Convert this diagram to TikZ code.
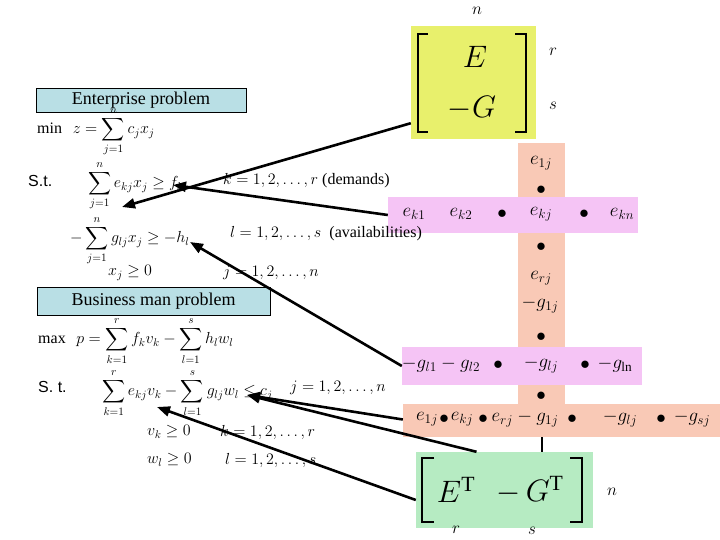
\RequirePackage{fix-cm}
\documentclass[tikz,border=0pt]{standalone}
\usepackage{amsmath,amssymb}
\usepackage{fontspec}
\setmainfont{Liberation Serif}
\setsansfont{Liberation Sans}
\usetikzlibrary{arrows.meta,positioning}
\definecolor{amareloM}{HTML}{E8F06C}
\definecolor{salmao}{HTML}{F9C9B6}
\definecolor{rosa}{HTML}{F5C4F5}
\definecolor{verdeM}{HTML}{B6EBC2}
\definecolor{azulT}{HTML}{B9DFE5}
\tikzset{
    titulo/.style={
        rectangle,
        draw,
        fill=azulT,
        inner sep=0pt,
        font=\fontsize{18}{20}\selectfont
    },
    faixa/.style={rectangle, inner sep=0pt},
    formula/.style={anchor=west, inner sep=0pt, font=\fontsize{16}{18}\selectfont},
    elem/.style={inner sep=0pt, font=\fontsize{19}{21}\selectfont},
    rotulo/.style={inner sep=0pt, font=\fontsize{17}{19}\selectfont},
    grande/.style={inner sep=0pt, font=\fontsize{31}{33}\selectfont},
    seta/.style={-{Triangle[length=13pt,width=10pt]}, line width=2.6pt},
    colchete/.style={line width=1.6pt}
}

\begin{document}
\begin{tikzpicture}[x=1pt, y=-1pt]
    \useasboundingbox (0,0) rectangle (720,540);

    % faixas coloridas
    \node[faixa, fill=amareloM, minimum width=125pt, minimum height=113pt] (amarelo) at (473.5,82.5) {};
    \node[faixa, fill=salmao, minimum width=47pt, minimum height=262pt] (coluna) at (541.5,274) {};
    \node[faixa, fill=rosa, minimum width=250pt, minimum height=36pt] (linhaK) at (513,215) {};
    \node[faixa, fill=rosa, minimum width=240pt, minimum height=38pt] (linhaL) at (522,366) {};
    \node[faixa, fill=salmao, minimum width=317pt, minimum height=33pt] (linhaS) at (561.5,420.5) {};
    \node[faixa, fill=verdeM, minimum width=177pt, minimum height=76pt] (verde) at (504.5,490) {};

    % matriz [E; -G]
    \draw[colchete] (428,34) -- (418,34) -- (418,132) -- (428,132);
    \draw[colchete] (515,34) -- (526,34) -- (526,132) -- (515,132);
    \node[grande] (matE) at (475,57) {$E$};
    \node[grande] (matG) at (472,108) {$-G$};
    \node[rotulo] (nSup) at (477,11) {$n$};
    \node[rotulo] (rSup) at (553,52) {$r$};
    \node[rotulo] (sSup) at (553,106) {$s$};

    % matriz [E^T  -G^T]
    \draw[colchete] (434,458) -- (422,458) -- (422,522) -- (434,522);
    \draw[colchete] (570,458) -- (582,458) -- (582,522) -- (570,522);
    \node[grande] (matET) at (456,490) {$E^{\mathrm{T}}$};
    \node[grande] (matGT) at (530,490) {$-\,G^{\mathrm{T}}$};
    \node[rotulo] (nInf) at (612,492) {$n$};
    \node[rotulo] (rInf) at (456,530) {$r$};
    \node[rotulo] (sInf) at (532,531) {$s$};

    % elementos da coluna j
    \node[elem] (e1j) at (541,163) {$e_{1j}$};
    \node[elem] (pv1) at (541,190) {$\bullet$};
    \node[elem] (ek1) at (414,214) {$e_{k1}$};
    \node[elem] (ek2) at (461,214) {$e_{k2}$};
    \node[elem] (pk1) at (502,214) {$\bullet$};
    \node[elem] (ekj) at (541,214) {$e_{kj}$};
    \node[elem] (pk2) at (584,214) {$\bullet$};
    \node[elem] (ekn) at (622,214) {$e_{kn}$};
    \node[elem] (pv2) at (541,247) {$\bullet$};
    \node[elem] (erj) at (541,278) {$e_{rj}$};
    \node[elem] (g1j) at (540,305) {$-g_{1j}$};
    \node[elem] (pv3) at (541,337) {$\bullet$};
    \node[elem] (gl12) at (441,365) {$-g_{l1}-g_{l2}$};
    \node[elem] (pl1) at (498,365) {$\bullet$};
    \node[elem] (glj) at (541,365) {$-g_{lj}$};
    \node[elem] (pl2) at (585,365) {$\bullet$};
    \node[elem] (gln) at (615,365) {$-g_{\mathrm{ln}}$};
    \node[elem] (pv4) at (541,396) {$\bullet$};
    \node[elem] (s1) at (427,419) {$e_{1j}$};
    \node[elem] (s2) at (444,419) {$\bullet$};
    \node[elem] (s3) at (462,419) {$e_{kj}$};
    \node[elem] (s4) at (483,419) {$\bullet$};
    \node[elem] (s5) at (525,419) {$e_{rj}-g_{1j}$};
    \node[elem] (s6) at (572,419) {$\bullet$};
    \node[elem] (s7) at (620,419) {$-g_{lj}$};
    \node[elem] (s8) at (661,419) {$\bullet$};
    \node[elem] (s9) at (692,419) {$-g_{sj}$};

    % problema da empresa
    \node[titulo, minimum width=210pt, minimum height=24pt] (tituloE) at (141,100) {Enterprise problem};
    \node[formula] (objE) at (37,132) {$\min\ \ z=\displaystyle\sum_{j=1}^{n} c_j x_j$};
    \node[formula, font=\sffamily\fontsize{16}{18}\selectfont] (stE) at (28,181) {S.t.};
    \node[formula] (demE) at (88,186) {$\displaystyle\sum_{j=1}^{n} e_{kj}x_j \ge f_k$};
    \node[formula] (demI) at (223,181) {$k=1,2,\ldots,r$ (demands)};
    \node[formula] (dispE) at (70,241) {$-\displaystyle\sum_{j=1}^{n} g_{lj}x_j \ge -h_l$};
    \node[formula] (dispI) at (230,234) {$l=1,2,\ldots,s$\enspace(availabilities)};
    \node[formula] (xpos) at (108,273) {$x_j \ge 0$};
    \node[formula] (xind) at (223,273) {$j=1,2,\ldots,n$};

    % problema do comerciante
    \node[titulo, minimum width=233pt, minimum height=28pt] (tituloB) at (153.5,301) {Business man problem};
    \node[formula] (objB) at (38,341) {$\max\ \ p=\displaystyle\sum_{k=1}^{r} f_k v_k-\sum_{l=1}^{s} h_l w_l$};
    \node[formula, font=\sffamily\fontsize{16}{18}\selectfont] (stB) at (38,387) {S. t.};
    \node[formula] (restB) at (102,393) {$\displaystyle\sum_{k=1}^{r} e_{kj}v_k-\sum_{l=1}^{s} g_{lj}w_l \le c_j$};
    \node[formula] (restI) at (290,388) {$j=1,2,\ldots,n$};
    \node[formula] (vpos) at (147,432) {$v_k \ge 0$};
    \node[formula] (vind) at (220,432) {$k=1,2,\ldots,r$};
    \node[formula] (wpos) at (147,460) {$w_l \ge 0$};
    \node[formula] (wind) at (225,460) {$l=1,2,\ldots,s$};

    % pontas das setas
    \coordinate (alvoSoma) at (122,207);
    \coordinate (alvoF) at (173,185);
    \coordinate (alvoH) at (190,242);
    \coordinate (alvoC) at (247,395);
    \coordinate (alvoV) at (157,407);

    \draw[seta] ([yshift=16pt]amarelo.south west) -- (alvoSoma);
    \draw[seta] (linhaK.west) -- (alvoF);
    \draw[seta] (linhaL.west) -- (alvoH);
    \draw[seta] ([yshift=1pt]linhaS.west) -- (alvoC);
    \draw[seta] ([xshift=-28pt]verde.north) -- (alvoC);
    \draw[seta] ([yshift=-10pt]verde.west) -- (alvoV);
    \draw[line width=2pt] (coluna.center |- linhaS.south) -- (coluna.center |- verde.north);
\end{tikzpicture}
\end{document}
